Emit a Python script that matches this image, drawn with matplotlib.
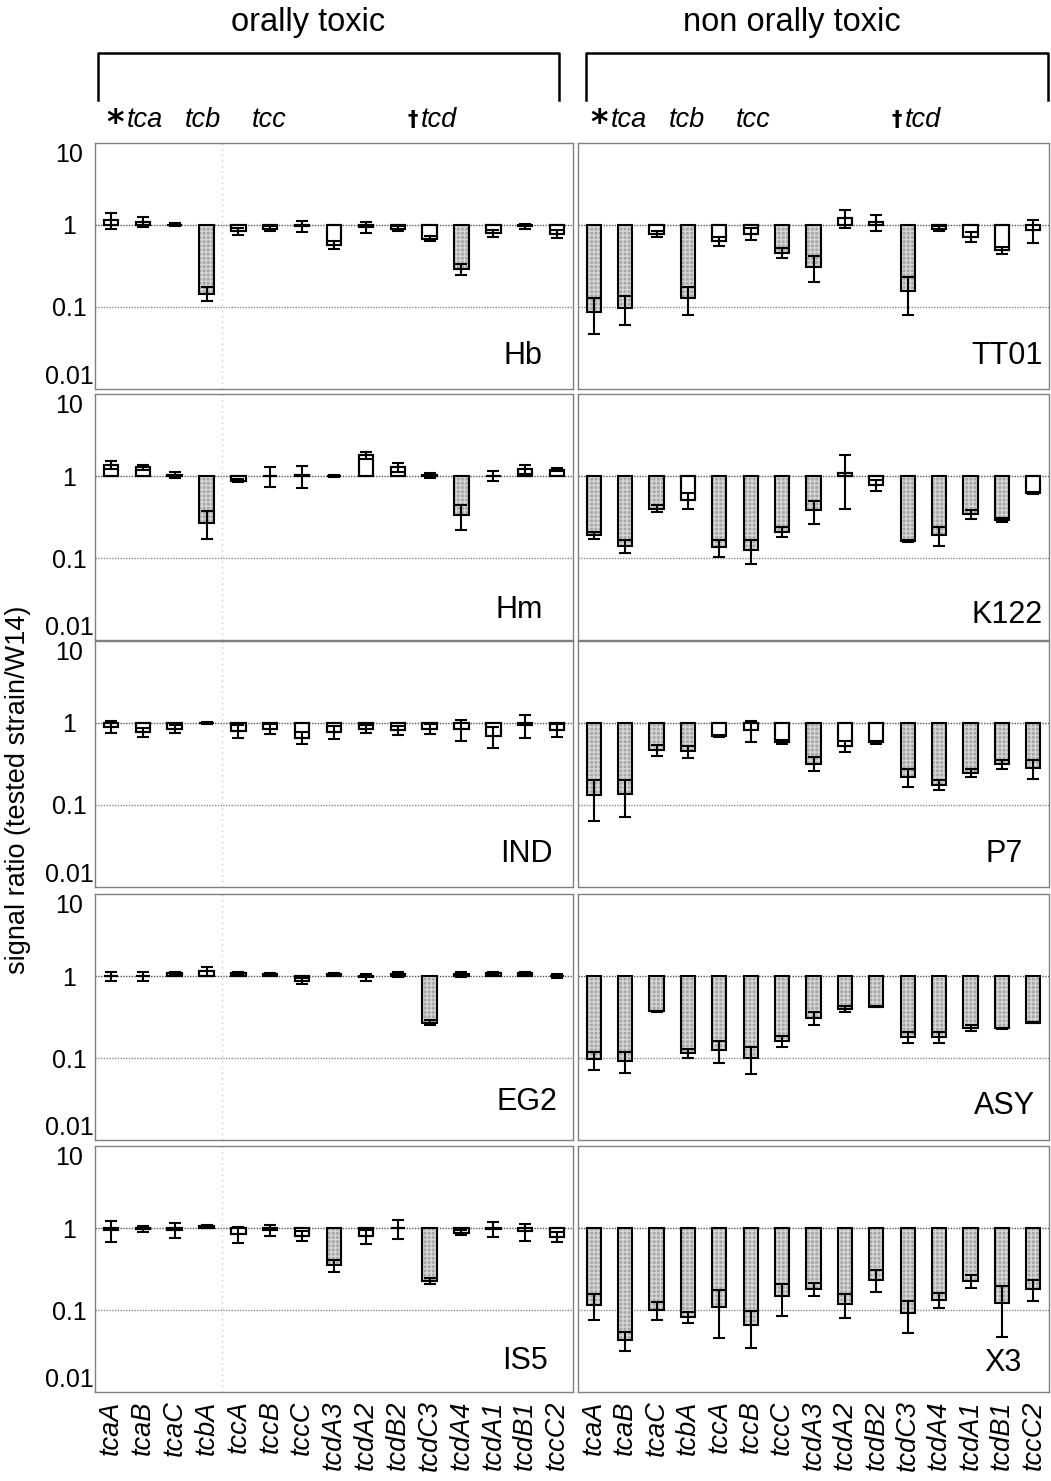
import matplotlib
matplotlib.use('Agg')
import matplotlib.pyplot as plt
from matplotlib.lines import Line2D
from matplotlib.ticker import NullLocator, FixedLocator

plt.rcParams['font.family'] = ['Liberation Sans', 'DejaVu Sans']

# ---------------- data ----------------
genes = ['tcaA', 'tcaB', 'tcaC', 'tcbA', 'tccA', 'tccB', 'tccC', 'tcdA3',
         'tcdA2', 'tcdB2', 'tcdC3', 'tcdA4', 'tcdA1', 'tcdB1', 'tccC2']

left_strains = ['Hb', 'Hm', 'IND', 'EG2', 'IS5']
right_strains = ['TT01', 'K122', 'P7', 'ASY', 'X3']

hb_mean = [1.15, 1.10, 1.01, 0.146, 0.84, 0.90, 0.97, 0.57, 0.95, 0.90, 0.68, 0.29, 0.80, 0.97, 0.78]
hb_sd   = [0.25, 0.15, 0.04, 0.028, 0.08, 0.06, 0.15, 0.06, 0.14, 0.06, 0.05, 0.045, 0.08, 0.07, 0.09]
hb_sig  = [0, 0, 0, 1, 0, 0, 0, 0, 0, 0, 0, 1, 0, 0, 0]

hm_mean = [1.37, 1.27, 1.03, 0.27, 0.88, 1.00, 1.02, 1.00, 1.80, 1.28, 1.02, 0.33, 1.01, 1.22, 1.20]
hm_sd   = [0.15, 0.08, 0.08, 0.10, 0.04, 0.27, 0.30, 0.03, 0.17, 0.16, 0.08, 0.11, 0.15, 0.15, 0.05]
hm_sig  = [0, 0, 0, 1, 0, 0, 0, 0, 0, 0, 0, 1, 0, 0, 0]

ind_mean = [0.90, 0.78, 0.85, 1.00, 0.80, 0.85, 0.66, 0.77, 0.85, 0.82, 0.85, 0.85, 0.70, 0.95, 0.82]
ind_sd   = [0.15, 0.10, 0.10, 0.03, 0.15, 0.12, 0.11, 0.14, 0.10, 0.11, 0.12, 0.25, 0.20, 0.30, 0.14]
ind_sig  = [0, 0, 0, 0, 0, 0, 0, 0, 0, 0, 0, 0, 0, 0, 0]

eg2_mean = [0.99, 0.99, 1.08, 1.15, 1.08, 1.05, 0.88, 1.06, 0.96, 1.05, 0.27, 1.05, 1.08, 1.08, 1.00]
eg2_sd   = [0.13, 0.13, 0.05, 0.15, 0.05, 0.03, 0.07, 0.03, 0.10, 0.07, 0.02, 0.07, 0.04, 0.04, 0.06]
eg2_sig  = [0, 0, 0, 0, 0, 0, 0, 0, 0, 0, 1, 0, 0, 0, 0]

is5_mean = [0.95, 0.98, 0.95, 1.05, 0.85, 0.95, 0.80, 0.35, 0.79, 0.99, 0.225, 0.88, 0.97, 0.91, 0.78]
is5_sd   = [0.27, 0.08, 0.20, 0.05, 0.19, 0.14, 0.11, 0.06, 0.15, 0.25, 0.018, 0.06, 0.20, 0.21, 0.11]
is5_sig  = [0, 0, 0, 0, 0, 0, 0, 1, 0, 0, 1, 0, 0, 0, 0]

tt01_mean = [0.087, 0.098, 0.78, 0.127, 0.63, 0.78, 0.46, 0.31, 1.22, 1.08, 0.155, 0.90, 0.72, 0.49, 0.88]
tt01_sd   = [0.040, 0.038, 0.06, 0.048, 0.08, 0.13, 0.06, 0.11, 0.30, 0.23, 0.075, 0.06, 0.10, 0.05, 0.27]
tt01_sig  = [1, 1, 0, 1, 0, 0, 1, 1, 0, 0, 1, 0, 0, 0, 0]

k122_mean = [0.19, 0.14, 0.40, 0.51, 0.135, 0.125, 0.21, 0.38, 1.10, 0.78, 0.163, 0.19, 0.34, 0.29, 0.62]
k122_sd   = [0.018, 0.025, 0.04, 0.11, 0.032, 0.04, 0.03, 0.12, 0.70, 0.12, 0.005, 0.05, 0.045, 0.015, 0.01]
k122_sig  = [1, 1, 1, 0, 1, 1, 1, 1, 0, 0, 1, 1, 1, 1, 0]

p7_mean = [0.133, 0.137, 0.47, 0.45, 0.69, 0.82, 0.59, 0.32, 0.52, 0.58, 0.22, 0.175, 0.248, 0.315, 0.28]
p7_sd   = [0.070, 0.065, 0.075, 0.075, 0.02, 0.24, 0.03, 0.06, 0.08, 0.03, 0.055, 0.024, 0.03, 0.04, 0.075]
p7_sig  = [1, 1, 1, 1, 0, 0, 0, 1, 0, 0, 1, 1, 1, 1, 1]

asy_mean = [0.096, 0.093, 0.373, 0.115, 0.125, 0.100, 0.163, 0.305, 0.40, 0.42, 0.18, 0.18, 0.235, 0.23, 0.27]
asy_sd   = [0.024, 0.027, 0.005, 0.014, 0.037, 0.036, 0.025, 0.055, 0.035, 0.005, 0.028, 0.028, 0.02, 0.005, 0.005]
asy_sig  = [1, 1, 1, 1, 1, 1, 1, 1, 1, 1, 1, 1, 1, 1, 1]

x3_mean = [0.115, 0.043, 0.100, 0.082, 0.110, 0.066, 0.147, 0.182, 0.118, 0.235, 0.091, 0.134, 0.226, 0.122, 0.180]
x3_sd   = [0.040, 0.011, 0.025, 0.013, 0.065, 0.032, 0.062, 0.034, 0.039, 0.070, 0.038, 0.027, 0.040, 0.075, 0.053]
x3_sig  = [1, 1, 1, 1, 1, 1, 1, 1, 1, 1, 1, 1, 1, 1, 1]

left_data = [(hb_mean, hb_sd, hb_sig), (hm_mean, hm_sd, hm_sig), (ind_mean, ind_sd, ind_sig),
             (eg2_mean, eg2_sd, eg2_sig), (is5_mean, is5_sd, is5_sig)]
right_data = [(tt01_mean, tt01_sd, tt01_sig), (k122_mean, k122_sd, k122_sig), (p7_mean, p7_sd, p7_sig),
              (asy_mean, asy_sd, asy_sig), (x3_mean, x3_sd, x3_sig)]

yticks = [0.01, 0.1, 1, 10]
ytick_labels = ['0.01', '0.1', '1', '10']

# ---------------- layout ----------------
W, H = 1051, 1481
fig = plt.figure(figsize=(W / 100, H / 100), dpi=100)

def fx(px):
    return px / W

def fy(py):
    return 1 - py / H

row_tops = [143, 394, 641, 894, 1146]
row_h = 246
col_lefts = [95, 578]
col_ws = [478, 471]

label_x = [[0.935, 0.937, 0.958, 0.967, 0.948], [0.987, 0.987, 0.945, 0.970, 0.943]]
label_y = [[0.10, 0.09, 0.10, 0.12, 0.095], [0.10, 0.07, 0.10, 0.105, 0.085]]

spine_style = dict(color='#808080', linestyle=(0, (1, 1)), linewidth=1.0)

for c, (strains, data) in enumerate([(left_strains, left_data), (right_strains, right_data)]):
    for r in range(5):
        top = row_tops[r]
        ax = fig.add_axes([fx(col_lefts[c]), fy(top + row_h), fx(col_ws[c]), row_h / H])
        mean, sd, sig = data[r]
        xs = list(range(len(genes)))
        ax.set_yscale('log')
        ax.set_ylim(0.01, 10)
        ax.set_xlim(-0.5, len(genes) - 0.5)
        ax.axhline(1, color='#555555', linestyle=(0, (1, 1)), linewidth=1.0, zorder=1)
        ax.axhline(0.1, color='#8a8a8a', linestyle=(0, (1, 1)), linewidth=1.0, zorder=1)
        if c == 0:
            ax.axvline(3.5, color='#c8c8c8', linestyle=(0, (1, 3)), linewidth=1.0, zorder=1)
        heights = [m - 1 for m in mean]
        grey_x = [x for x, s in zip(xs, sig) if s]
        grey_h = [h for h, s in zip(heights, sig) if s]
        ax.bar(grey_x, grey_h, bottom=1, width=0.45, color='#a6a6a6', hatch='++++',
               edgecolor='#d6d6d6', linewidth=0, zorder=2)
        ax.bar(xs, heights, bottom=1, width=0.45, fill=False, edgecolor='black',
               linewidth=1.5, zorder=3)
        ax.bar([x for x, s in zip(xs, sig) if not s], [h for h, s in zip(heights, sig) if not s],
               bottom=1, width=0.45, color='white', edgecolor='black', linewidth=1.5, zorder=2)
        ax.errorbar(xs, mean, yerr=sd, fmt='none', ecolor='black', elinewidth=1.5,
                    capsize=4.5, capthick=1.5, zorder=4)
        for s in ax.spines.values():
            s.set(**spine_style)
        ax.yaxis.set_major_locator(FixedLocator(yticks))
        ax.yaxis.set_minor_locator(NullLocator())
        ax.tick_params(axis='both', length=0)
        if c == 0:
            ax.set_yticklabels(ytick_labels, fontsize=18)
            ax.tick_params(axis='y', pad=18.5)
            labs = ax.get_yticklabels()
            for lab in labs:
                lab.set_horizontalalignment('center')
            labs[0].set_verticalalignment('bottom')
            labs[-1].set_verticalalignment('top')
        else:
            ax.set_yticklabels([])
        ax.set_xticks(xs)
        if r == 4:
            ax.set_xticklabels(genes, rotation=90, fontsize=19.5, style='italic', va='top')
            ax.tick_params(axis='x', pad=6)
        else:
            ax.set_xticklabels([])
        ax.text(label_x[c][r], label_y[c][r], strains[r], transform=ax.transAxes,
                ha='right', va='baseline', fontsize=22)

# ---------------- header ----------------
fig.text(fx(308), fy(22), 'orally toxic', ha='center', va='center', fontsize=23.5)
fig.text(fx(792), fy(22), 'non orally toxic', ha='center', va='center', fontsize=23.5)

for x0, x1 in [(98, 559), (586, 1048)]:
    fig.add_artist(Line2D([fx(x0), fx(x0), fx(x1), fx(x1)], [fy(100), fy(53), fy(53), fy(100)],
                          transform=fig.transFigure, color='black', linewidth=1.8))

# (symbol, name, symbol x px, name x px)
group_labels = [('*', 'tca', 106, 127), ('', 'tcb', 185, 185), ('', 'tcc', 252, 252),
                ('\u2020', 'tcd', 408, 421)]
for offset in [0, 484]:
    for sym, name, xs_px, xn_px in group_labels:
        if sym == '*':
            fig.text(fx(xs_px + offset), fy(124), sym, ha='left', va='center', fontsize=24,
                     fontweight='bold', family=['DejaVu Sans'])
        elif sym:
            fig.text(fx(xs_px + offset), fy(120), sym, ha='left', va='center', fontsize=15,
                     fontweight='bold', family=['DejaVu Sans'])
        fig.text(fx(xn_px + offset), fy(120), name, ha='left', va='center', fontsize=19.5,
                 style='italic')

fig.text(fx(18), fy(790), 'signal ratio (tested strain/W14)', rotation=90,
         ha='center', va='center', fontsize=19.5)

fig.savefig('out.png', dpi=100)
